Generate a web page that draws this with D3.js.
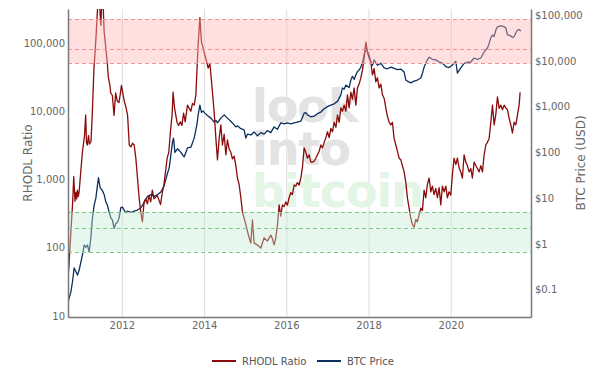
<!DOCTYPE html>
<html>
<head>
<meta charset="utf-8">
<script src="https://cdn.jsdelivr.net/npm/d3@7/dist/d3.min.js"></script>
<style>
  html, body { margin: 0; padding: 0; background: #fff; }
  svg { display: block; }
  text { font-family: "DejaVu Sans", Verdana, sans-serif; }
</style>
</head>
<body>
<div id="chart"></div>
<script>
// ---------------- DATA ----------------
const seriesNames = ["RHODL Ratio", "BTC Price"];

const rhodlYears = [2010.694,2010.72,2010.76,2010.80,2010.83,2010.86,2010.88,2010.90,2010.92,2010.94,2010.96,2011.00,2011.04,2011.07,2011.09,2011.12,2011.14,2011.16,2011.19,2011.21,2011.25,2011.28,2011.32,2011.37,2011.40,2011.42,2011.46,2011.49,2011.51,2011.55,2011.57,2011.61,2011.65,2011.67,2011.71,2011.73,2011.77,2011.81,2011.85,2011.89,2011.93,2011.97,2011.99,2012.06,2012.10,2012.14,2012.18,2012.22,2012.26,2012.30,2012.34,2012.38,2012.42,2012.46,2012.50,2012.54,2012.58,2012.62,2012.66,2012.70,2012.74,2012.78,2012.86,2012.94,2012.98,2013.02,2013.06,2013.10,2013.14,2013.18,2013.22,2013.245,2013.28,2013.34,2013.38,2013.42,2013.46,2013.50,2013.54,2013.595,2013.678,2013.717,2013.758,2013.80,2013.824,2013.855,2013.897,2013.936,2013.977,2014.018,2014.057,2014.098,2014.14,2014.164,2014.203,2014.244,2014.286,2014.325,2014.366,2014.407,2014.446,2014.488,2014.529,2014.568,2014.609,2014.65,2014.689,2014.731,2014.772,2014.811,2014.852,2014.894,2014.933,2014.974,2015.015,2015.054,2015.095,2015.137,2015.176,2015.217,2015.297,2015.38,2015.46,2015.54,2015.623,2015.662,2015.703,2015.745,2015.784,2015.825,2015.866,2015.905,2015.946,2015.988,2016.027,2016.068,2016.109,2016.148,2016.19,2016.231,2016.27,2016.311,2016.353,2016.392,2016.433,2016.474,2016.513,2016.554,2016.596,2016.635,2016.676,2016.717,2016.756,2016.798,2016.839,2016.878,2016.919,2016.96,2017.00,2017.041,2017.082,2017.121,2017.162,2017.204,2017.243,2017.284,2017.325,2017.364,2017.405,2017.447,2017.486,2017.527,2017.568,2017.607,2017.649,2017.69,2017.729,2017.77,2017.812,2017.851,2017.892,2017.933,2017.972,2018.013,2018.055,2018.094,2018.135,2018.176,2018.215,2018.257,2018.298,2018.337,2018.378,2018.419,2018.458,2018.50,2018.541,2018.58,2018.621,2018.663,2018.702,2018.743,2018.784,2018.823,2018.865,2018.906,2018.945,2018.986,2019.027,2019.066,2019.108,2019.149,2019.188,2019.229,2019.271,2019.31,2019.351,2019.392,2019.431,2019.473,2019.514,2019.553,2019.594,2019.635,2019.675,2019.716,2019.757,2019.796,2019.838,2019.879,2019.918,2019.959,2020.00,2020.039,2020.08,2020.122,2020.161,2020.202,2020.243,2020.282,2020.324,2020.365,2020.404,2020.445,2020.486,2020.525,2020.567,2020.608,2020.647,2020.688,2020.73,2020.769,2020.81,2020.851,2020.89,2020.931,2020.973,2021.012,2021.053,2021.094,2021.133,2021.175,2021.216,2021.255,2021.296,2021.337,2021.377,2021.418,2021.459,2021.498,2021.539,2021.58,2021.62,2021.661,2021.685];
const rhodlValues = [37,65,170,430,1100,480,650,520,700,560,650,1290,2500,3500,4300,8800,3500,3200,4400,3300,3600,8800,40000,117000,257000,400000,350000,180000,400000,300000,145000,85000,48000,32000,24000,18500,17000,8700,18500,14000,13400,19000,24000,14000,11500,8700,3200,3000,3400,3200,2050,1050,540,330,240,470,520,440,580,470,700,520,580,430,630,830,1290,2050,2500,5000,8800,19000,11200,6900,6200,7000,6200,9400,7000,12300,10000,13000,12300,17400,38000,94000,235000,102000,85000,66000,55000,43000,50000,35000,19000,9800,4000,1940,4000,6300,3200,4600,2300,3800,2800,2500,2000,2200,1600,1050,850,540,330,270,220,175,140,117,255,117,110,99,140,125,153,135,110,140,214,425,290,425,400,470,420,540,640,600,830,800,900,830,1050,1500,2900,2500,2050,2300,1800,1800,1850,2050,2300,2600,3200,2900,3500,4100,5000,4100,5600,5000,6900,5800,8800,6900,11200,10000,12300,10000,17400,11200,19000,15000,22000,12300,22000,25000,31000,40000,61000,103000,75000,66000,53000,34000,42000,27000,31000,22000,25000,17400,15500,11200,8500,6900,6300,6900,4000,3200,2600,2050,1940,1600,1290,900,540,380,270,220,200,260,240,300,380,350,700,540,850,1050,660,800,600,740,540,760,425,800,660,800,540,660,590,1170,2050,1650,2050,1480,1290,1050,2300,1800,1600,1290,1450,1050,1800,1600,1450,1290,1600,1290,2300,3200,3500,4000,6900,12300,6300,9000,16200,11000,12300,10500,12300,11200,10500,7900,6300,4800,6900,6300,8800,12300,19000];

const priceYears = [2010.694,2010.76,2010.799,2010.84,2010.881,2010.92,2010.962,2011.003,2011.042,2011.083,2011.125,2011.164,2011.205,2011.246,2011.285,2011.326,2011.368,2011.407,2011.431,2011.472,2011.52,2011.57,2011.611,2011.65,2011.691,2011.733,2011.772,2011.813,2011.854,2011.893,2011.934,2011.976,2012.015,2012.056,2012.097,2012.136,2012.219,2012.299,2012.379,2012.462,2012.542,2012.623,2012.705,2012.785,2012.866,2012.948,2013.029,2013.07,2013.109,2013.15,2013.191,2013.23,2013.255,2013.289,2013.352,2013.435,2013.474,2013.515,2013.556,2013.595,2013.678,2013.758,2013.824,2013.855,2013.897,2013.936,2013.977,2014.018,2014.082,2014.164,2014.244,2014.286,2014.325,2014.407,2014.488,2014.568,2014.65,2014.731,2014.772,2014.811,2014.894,2014.974,2015.015,2015.054,2015.137,2015.217,2015.297,2015.38,2015.46,2015.54,2015.623,2015.703,2015.784,2015.866,2015.946,2016.027,2016.109,2016.19,2016.27,2016.353,2016.433,2016.474,2016.513,2016.596,2016.676,2016.756,2016.839,2016.919,2017.00,2017.082,2017.162,2017.243,2017.325,2017.364,2017.405,2017.447,2017.527,2017.568,2017.607,2017.649,2017.69,2017.729,2017.77,2017.812,2017.851,2017.892,2017.933,2017.972,2018.013,2018.055,2018.094,2018.135,2018.215,2018.298,2018.378,2018.458,2018.541,2018.621,2018.702,2018.784,2018.865,2018.906,2018.945,2019.027,2019.108,2019.188,2019.271,2019.31,2019.351,2019.431,2019.473,2019.553,2019.635,2019.716,2019.796,2019.879,2019.959,2020.039,2020.122,2020.161,2020.243,2020.324,2020.404,2020.486,2020.567,2020.647,2020.73,2020.81,2020.89,2020.931,2020.973,2021.012,2021.053,2021.094,2021.133,2021.216,2021.296,2021.337,2021.377,2021.459,2021.498,2021.539,2021.58,2021.62,2021.661,2021.702];
const priceValues = [0.055,0.09,0.15,0.30,0.25,0.21,0.27,0.4,0.58,0.95,0.85,0.95,0.67,1.35,3.7,7,10,19,28,17,15,12,8.3,7,5,3.7,3.3,2.2,2.8,3.0,3.7,6.2,6.4,5.5,4.8,5.2,4.9,5.2,5.5,6.2,8,11,12,11,12,13.7,19,26,35,46,88,168,205,100,120,100,88,80,100,125,130,205,400,660,1080,750,800,720,640,560,460,500,440,560,660,560,480,400,360,380,330,310,205,250,240,280,230,270,250,300,270,360,320,440,420,440,420,440,460,480,720,740,660,600,620,700,760,900,1000,1080,1150,1300,1800,2560,2400,2950,2600,3800,4600,3900,4900,5800,6300,7300,8900,13500,19500,15600,11500,9400,8000,10500,8000,8900,7000,6700,7300,6800,6400,6600,5700,3800,3600,3300,3600,3800,4200,5300,7300,10500,12000,10800,10500,9500,8900,7500,7100,8100,9800,5400,7000,8800,9300,9400,11500,10700,11500,15600,19000,24000,32000,36500,34000,47000,55000,58000,56000,52000,37000,35000,32000,34000,40500,47000,48000,45000];

// zone levels (RHODL ratio): lower edge, middle line, upper edge
const redZone = [50500, 81000, 222000];
const greenZone = [88, 197, 337];

const leftTicks = [10, 100, 1000, 10000, 100000];
const rightTicks = [0.1, 1, 10, 100, 1000, 10000, 100000];
const axisTitles = { left: "RHODL Ratio", right: "BTC Price (USD)" };
const watermark = ["look", "into", "bitcoin"];

// ---------------- HELPERS ----------------
function yearToDate(t) {
  const y = Math.floor(t);
  const s = Date.UTC(y, 0, 1), e = Date.UTC(y + 1, 0, 1);
  return new Date(s + (t - y) * (e - s));
}

const W = 600, H = 386;
const M = { left: 68, right: 531, top: 9, bottom: 317 };

const svg = d3.select("#chart").append("svg").attr("width", W).attr("height", H);
svg.append("rect").attr("width", W).attr("height", H).attr("fill", "#fff");

const x = d3.scaleUtc()
  .domain([yearToDate(2010.69), yearToDate(2021.95)])
  .range([M.left, M.right]);
const yL = d3.scaleLog().domain([Math.pow(10, 0.985), Math.pow(10, 5.498)]).range([M.bottom, M.top]);
const yR = d3.scaleLog().domain([Math.pow(10, -1.594), Math.pow(10, 5.131)]).range([M.bottom, M.top]);

svg.append("defs").append("clipPath").attr("id", "plotclip")
  .append("rect").attr("x", M.left).attr("y", M.top)
  .attr("width", M.right - M.left).attr("height", M.bottom - M.top);

// vertical grid
const gx = d3.axisBottom(x).ticks(d3.utcYear.every(2)).tickSize(-(M.bottom - M.top)).tickFormat("");
svg.append("g").attr("transform", `translate(0,${M.bottom})`).call(gx)
  .call(g => g.select(".domain").remove())
  .call(g => g.selectAll("line").attr("stroke", "#dcdcdc").attr("stroke-width", 1));

// watermark (one text block, three lines)
const wmColor = ["#e3e3e3", "#e3e3e3", "#e3f5e5"];
const wm = svg.append("text").attr("x", 252).attr("y", 122)
  .attr("font-family", "'Liberation Sans', Arial, sans-serif")
  .attr("font-weight", "bold").attr("font-size", 46).attr("letter-spacing", -1);
watermark.forEach((w, i) => {
  wm.append("tspan").attr("x", 252).attr("dy", i === 0 ? 0 : 42.5).attr("fill", wmColor[i]).text(w);
});

// lines
const plot = svg.append("g").attr("clip-path", "url(#plotclip)");
const rhodl = rhodlYears.map((t, i) => [yearToDate(t), rhodlValues[i]]);
const price = priceYears.map((t, i) => [yearToDate(t), priceValues[i]]);

plot.append("path").datum(price)
  .attr("d", d3.line().x(d => x(d[0])).y(d => yR(d[1])))
  .attr("fill", "none").attr("stroke", "#0c2f5e").attr("stroke-width", 1.3).attr("stroke-linejoin", "round");
plot.append("path").datum(rhodl)
  .attr("d", d3.line().x(d => x(d[0])).y(d => yL(d[1])))
  .attr("fill", "none").attr("stroke", "#8b0a0a").attr("stroke-width", 1.3).attr("stroke-linejoin", "round");

// zones (overlay on top of lines)
function zone(levels, fill, op, dash) {
  plot.append("rect").attr("x", M.left).attr("width", M.right - M.left)
    .attr("y", yL(levels[2])).attr("height", yL(levels[0]) - yL(levels[2]))
    .attr("fill", fill).attr("fill-opacity", op);
  levels.forEach(v => {
    plot.append("line").attr("x1", M.left).attr("x2", M.right)
      .attr("y1", Math.round(yL(v)) + 0.5).attr("y2", Math.round(yL(v)) + 0.5)
      .attr("stroke", dash).attr("stroke-width", 1).attr("stroke-dasharray", "4,3");
  });
}
zone(redZone, "#ffb4b4", 0.42, "#f79090");
zone(greenZone, "#c4ecd2", 0.4, "#7cc98a");

// axes
const fmtL = d3.format(",");
const axL = d3.axisLeft(yL).tickValues(leftTicks).tickFormat(fmtL).tickSize(0).tickPadding(3);
const axR = d3.axisRight(yR).tickValues(rightTicks)
  .tickFormat(v => v < 1 ? "$" + v : "$" + fmtL(v)).tickSize(0).tickPadding(4);
const axB = d3.axisBottom(x).ticks(d3.utcYear.every(2)).tickFormat(d3.utcFormat("%Y")).tickSize(0).tickPadding(5);

function styleAxis(g) {
  g.select(".domain").attr("stroke", "#7a7a7a").attr("stroke-width", 1.5);
  g.selectAll("text").attr("fill", "#666").attr("font-size", 10).attr("font-family", "'DejaVu Sans', Verdana, sans-serif");
}
svg.append("g").attr("transform", `translate(${M.left},0)`).call(axL).call(styleAxis);
svg.append("g").attr("transform", `translate(${M.right},0)`).call(axR).call(styleAxis);
svg.append("g").attr("transform", `translate(0,${M.bottom})`).call(axB).call(styleAxis);

// axis titles
const midY = (M.top + M.bottom) / 2;
svg.append("text").attr("transform", `translate(32,${midY}) rotate(-90)`)
  .attr("text-anchor", "middle").attr("fill", "#666").attr("font-size", 12).text(axisTitles.left);
svg.append("text").attr("transform", `translate(585,${midY}) rotate(-90)`)
  .attr("text-anchor", "middle").attr("fill", "#666").attr("font-size", 12).text(axisTitles.right);

// legend
const legend = svg.append("g");
const legColors = ["#8b0a0a", "#0c2f5e"];
const legX = [212, 317];
seriesNames.forEach((n, i) => {
  legend.append("line").attr("x1", legX[i]).attr("x2", legX[i] + 24).attr("y1", 361).attr("y2", 361)
    .attr("stroke", legColors[i]).attr("stroke-width", 2);
  legend.append("text").attr("x", legX[i] + 30).attr("y", 364.5).attr("fill", "#555").attr("font-size", 10).text(n);
});
</script>
</body>
</html>
